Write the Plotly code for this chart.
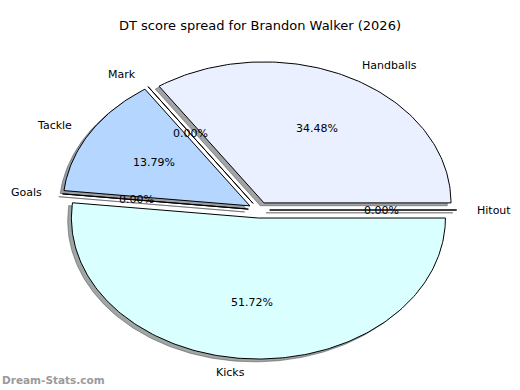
import math
import plotly.graph_objects as go

# ---- data ----
labels = ["Hitout", "Handballs", "Mark", "Tackle", "Goals", "Kicks"]
values = [0, 10, 0, 4, 0, 15]
colors = ["#f0f0ff", "#eaf0ff", "#dde8ff", "#b4d6ff", "#c8ecff", "#d9ffff"]
title_text = "DT score spread for Brandon Walker (2026)"
watermark = "Dream-Stats.com"

# ---- pie geometry (data units, radius = 1) ----
explode = 0.057
start_angle = 0.0
shadow_dx, shadow_dy = -0.02, -0.02
label_dist, pct_dist = 1.1, 0.6

total = sum(values)
fig = go.Figure()

wedges = []
theta = start_angle
for lab, val, col in zip(labels, values, colors):
    span = 360.0 * val / total
    t1, t2 = theta, theta + span
    tm = math.radians((t1 + t2) / 2)
    cxw = explode * math.cos(tm)
    cyw = explode * math.sin(tm)
    n = max(2, int(span) + 2)
    xs = [cxw]
    ys = [cyw]
    for i in range(n):
        a = math.radians(t1 + (t2 - t1) * i / (n - 1))
        xs.append(cxw + math.cos(a))
        ys.append(cyw + math.sin(a))
    xs.append(cxw)
    ys.append(cyw)
    wedges.append((lab, val, col, xs, ys, tm, cxw, cyw))
    theta = t2

def hex_to_rgb(h):
    h = h.lstrip("#")
    return tuple(int(h[i:i + 2], 16) for i in (0, 2, 4))

# shadows first
for lab, val, col, xs, ys, tm, cxw, cyw in wedges:
    r, g, b = hex_to_rgb(col)
    sc = "rgba(%d,%d,%d,0.5)" % (int(r * 0.3), int(g * 0.3), int(b * 0.3))
    fig.add_trace(go.Scatter(
        x=[v + shadow_dx for v in xs], y=[v + shadow_dy for v in ys],
        mode="lines", fill="toself", fillcolor=sc,
        line=dict(color=sc, width=1), hoverinfo="skip", showlegend=False))

# wedges
for lab, val, col, xs, ys, tm, cxw, cyw in wedges:
    fig.add_trace(go.Scatter(
        x=xs, y=ys, mode="lines", fill="toself", fillcolor=col,
        line=dict(color="black", width=1), hoverinfo="skip", showlegend=False))

font = dict(family="DejaVu Sans", size=11, color="black")
for lab, val, col, xs, ys, tm, cxw, cyw in wedges:
    xt = cxw + label_dist * math.cos(tm)
    yt = cyw + label_dist * math.sin(tm)
    fig.add_annotation(x=xt, y=yt, text=lab, showarrow=False, font=font,
                       xanchor="left" if xt > 0 else "right", yanchor="middle")
    xp = cxw + pct_dist * math.cos(tm)
    yp = cyw + pct_dist * math.sin(tm)
    fig.add_annotation(x=xp, y=yp, text="%.2f%%" % (100.0 * val / total),
                       showarrow=False, font=font, xanchor="center", yanchor="middle")

# axes mapping: center at (259,210) px, rx=187 px, ry=141 px
W, H = 520, 390
cx_px, cy_px, rx_px, ry_px = 259, 210, 187, 141
fig.update_xaxes(range=[-cx_px / rx_px, (W - cx_px) / rx_px], visible=False, fixedrange=True)
fig.update_yaxes(range=[-(H - cy_px) / ry_px, cy_px / ry_px], visible=False, fixedrange=True)

fig.update_layout(
    width=W, height=H,
    margin=dict(l=0, r=0, t=0, b=0),
    paper_bgcolor="white", plot_bgcolor="white",
    showlegend=False,
    title=dict(text=title_text, x=0.5, xanchor="center", y=1 - 25 / H, yanchor="middle",
               font=dict(family="DejaVu Sans", size=13, color="black")),
)
fig.add_annotation(xref="paper", yref="paper", x=0, y=1 - 380 / H, xanchor="left", yanchor="middle",
                   text="<b>" + watermark + "</b>", showarrow=False,
                   font=dict(family="DejaVu Sans", size=10.5, color="#9a9a9a"))

fig.write_html("out.html", config={"displayModeBar": False},
               post_script="document.body.style.margin='0px';document.body.style.padding='0px';")
